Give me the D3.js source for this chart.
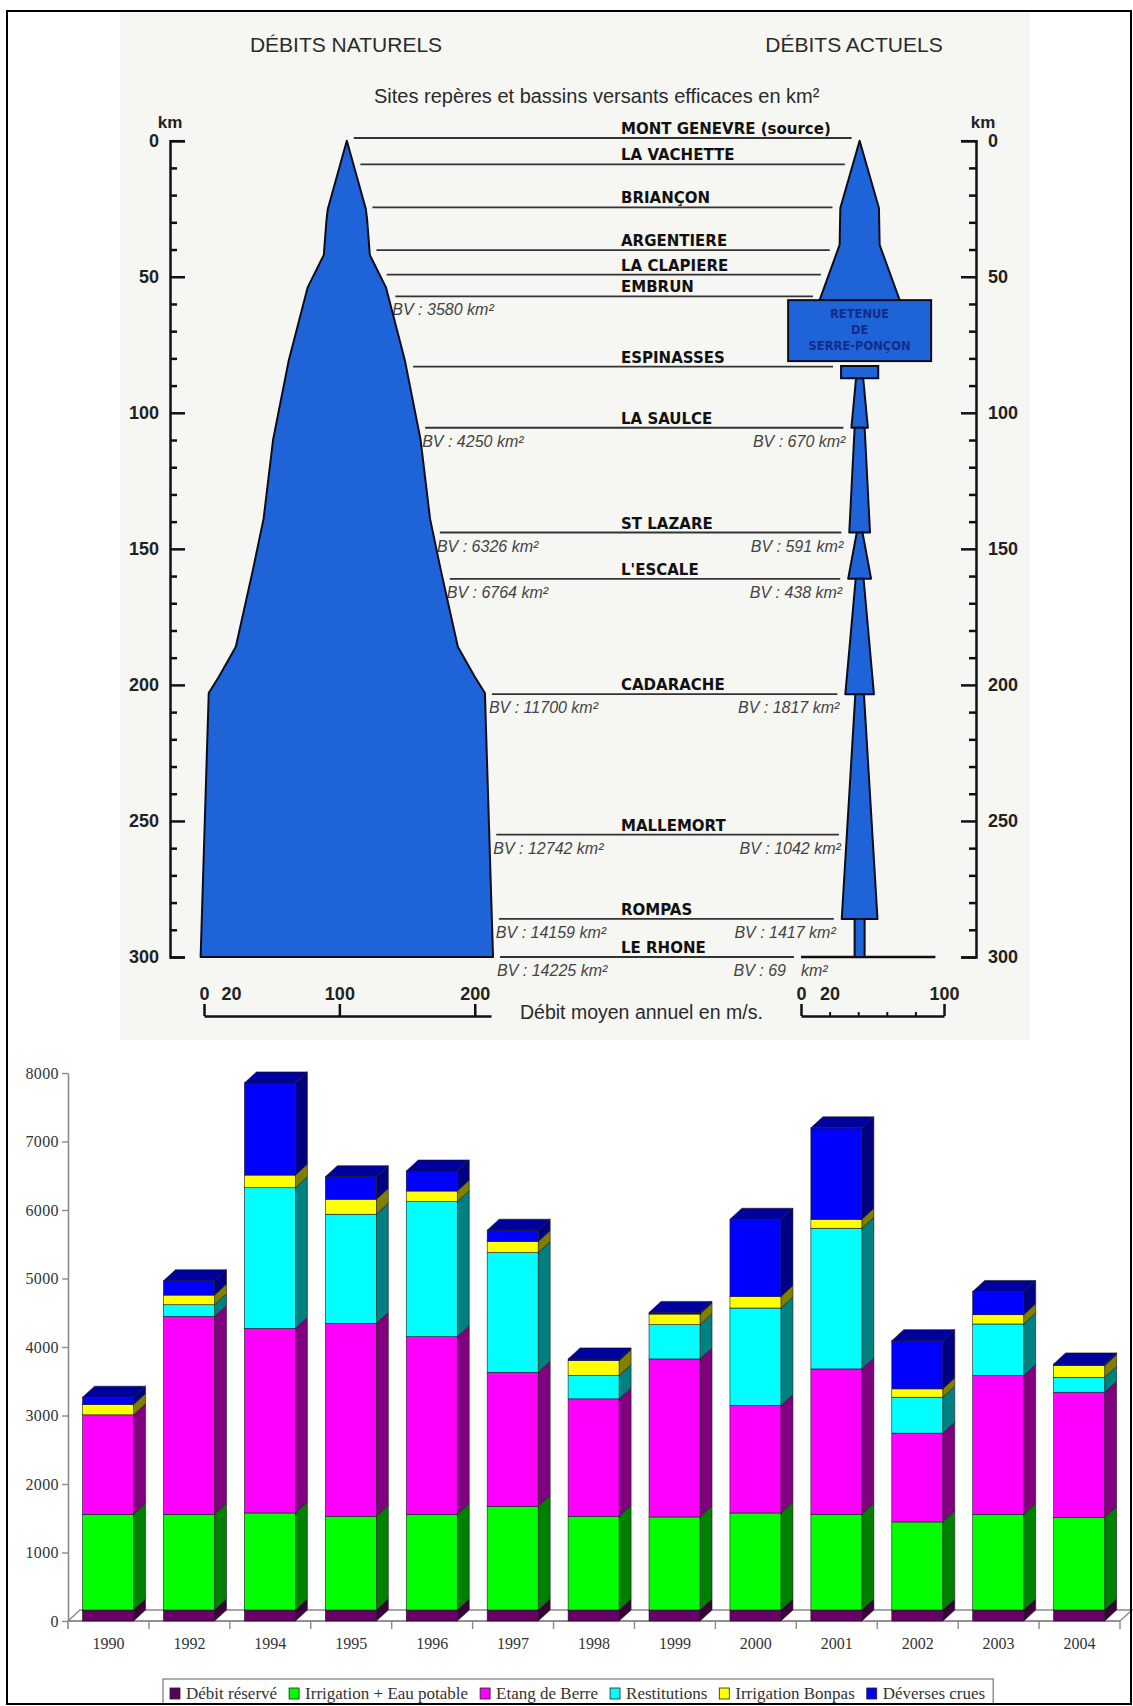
<!DOCTYPE html>
<html><head><meta charset="utf-8">
<script src="https://cdn.jsdelivr.net/npm/d3@7"></script>
<style>body{margin:0;background:#fff}svg{display:block}</style>
</head><body><svg id="c" width="1133" height="1706"></svg>
<script>
// ================= DATA : river diagram =================
const kmTicks = [0, 50, 100, 150, 200, 250, 300];
const kmMinorTicks = [10,20,30,40,60,70,80,90,110,120,130,140,160,170,180,190,210,220,230,240,260,270,280,290];
// natural mean flow (m3/s) along the river (km)
const naturalKm   = [0, 25, 29, 42, 54, 81, 110, 139, 158, 186, 197, 203, 300];
const naturalFlow = [0, 28, 30, 34, 58, 86, 109, 123, 139, 164, 189, 204, 216];
// present-day flow: upper Durance down to the reservoir
const actualKm   = [0, 24.7, 38.3, 58.6];
const actualFlow = [0, 27, 28, 56];
const reservoirKm = [58.6, 81];
const reservoirFlow = 100;
const reservoirText = ["RETENUE", "DE", "SERRE-PONÇON"];
const outletKm = [82.8, 87.3];
const outletFlow = 26;
// reaches below the dam (flow at upstream / downstream end)
const reachFromKm  = [87.3, 105.5, 144, 161, 203.4, 286];
const reachToKm    = [105.5, 144, 161, 203.4, 286, 300];
const reachFlowIn  = [5, 7, 4, 5.5, 6, 7];
const reachFlowOut = [11.5, 14.5, 16, 20, 25, 7];
const rhoneLineFlow = 94;
const siteNames = ["MONT GENEVRE (source)", "LA VACHETTE", "BRIANÇON", "ARGENTIERE", "LA CLAPIERE", "EMBRUN",
  "ESPINASSES", "LA SAULCE", "ST LAZARE", "L'ESCALE", "CADARACHE", "MALLEMORT", "ROMPAS", "LE RHONE"];
const siteKm = [-1, 8.7, 24.5, 40.2, 49.2, 57.2, 83, 105.5, 144, 161, 203.4, 255, 286, 300];
const bvNatural = [null, null, null, null, null, "3580", null, "4250", "6326", "6764", "11700", "12742", "14159", "14225"];
const bvActual  = [null, null, null, null, null, null, null, "670", "591", "438", "1817", "1042", "1417", "69"];
const natFlowTicks = [0, 100, 200];
const natFlowLabels = [0, 20, 100, 200];
const actFlowTicks = [0, 100];
const actFlowLabels = [0, 20, 100];
const actFlowMinor = [20, 40, 60, 80];

// ================= DATA : stacked bars =================
const years = ["1990","1992","1994","1995","1996","1997","1998","1999","2000","2001","2002","2003","2004"];
const debitReserve = [160,160,160,160,160,160,160,160,160,160,160,160,160];
const irrigationEau = [1398,1398,1417,1369,1398,1515,1369,1359,1417,1398,1286,1398,1350];
const etangBerre = [1452,2889,2695,2816,2593,1956,1714,2307,1569,2122,1297,2025,1830];
const restitutions = [0,170,2053,1593,1971,1748,340,500,1423,2054,524,753,218];
const irrigationBonpas = [150,141,185,219,155,160,218,155,169,131,122,135,171];
const deversesCrues = [107,209,1345,329,292,166,25,24,1127,1334,704,340,24];
const seriesNames = ["Débit réservé","Irrigation + Eau potable","Etang de Berre","Restitutions","Irrigation Bonpas","Déverses crues"];
const barTicks = [0,1000,2000,3000,4000,5000,6000,7000,8000];

// ================= STYLE =================
const SANS = "'Liberation Sans', Arial, sans-serif";
const HEAVY = "'DejaVu Sans', sans-serif";
const SERIF = "'Liberation Serif', 'Times New Roman', serif";
const RIVER = "#1e64d8";
const frontCol = ["#660066","#00ff00","#ff00ff","#00ffff","#ffff00","#0000ff"];
const sideCol  = ["#3a003a","#008000","#800080","#008080","#808000","#000080"];
const legendCol = ["#5a005a","#00ff00","#ff00ff","#00ffff","#ffff00","#0000ff"];
const topCol = "#00009c";

const svg = d3.select("#c");
svg.append("rect").attr("width",1133).attr("height",1706).attr("fill","#fff");
svg.append("rect").attr("x",120).attr("y",12).attr("width",910).attr("height",1028).attr("fill","#f6f6f3");

// ---------- top diagram ----------
const topG = svg.append("g");
const yKm = d3.scaleLinear().domain([0,300]).range([140.7,957]);
const xNat = d3.scaleLinear().domain([0,212]).range([204,491]);
const xAct = d3.scaleLinear().domain([0,100]).range([801,944]);
const natQ = d3.scaleLinear().domain(naturalKm).range(naturalFlow).clamp(true);
const actQ = d3.scaleLinear().domain(actualKm).range(actualFlow).clamp(true);
const natC = 105.5;   // centre line of the natural profile on its flow scale
const actC = 41;      // centre line of the present-day profile on its flow scale

function actFlowAt(km){
  let q = (km <= actualKm[actualKm.length-1]) ? actQ(km) : 0;
  if (km >= reservoirKm[0] && km <= reservoirKm[1]) q = Math.max(q, reservoirFlow);
  if (km >= outletKm[0] && km <= outletKm[1]) q = Math.max(q, outletFlow);
  reachFromKm.forEach((f,i)=>{
    const t = reachToKm[i];
    if (km >= f && km <= t) q = Math.max(q, reachFlowIn[i] + (reachFlowOut[i]-reachFlowIn[i])*(km-f)/(t-f));
  });
  return q;
}

topG.append("text").attr("x",346).attr("y",52).attr("text-anchor","middle")
  .style("font-family",SANS).style("font-size","21px").attr("fill","#2a2a2a").text("DÉBITS NATURELS");
topG.append("text").attr("x",854).attr("y",52).attr("text-anchor","middle")
  .style("font-family",SANS).style("font-size","21px").attr("fill","#2a2a2a").text("DÉBITS ACTUELS");
topG.append("text").attr("x",374).attr("y",103)
  .style("font-family",SANS).style("font-size","20px").attr("fill","#2a2a2a").text("Sites repères et bassins versants efficaces en km²");

// site lines and labels
const lastIdx = siteNames.length-1;
siteNames.forEach((name,i)=>{
  const km = siteKm[i], y = yKm(km);
  const x1 = xNat(natC + natQ(km)/2) + 7;
  const x2 = (i === lastIdx) ? xAct(0) - 7 : xAct(actC - actFlowAt(km)/2) - 8;
  topG.append("line").attr("x1",x1).attr("x2",x2).attr("y1",y).attr("y2",y)
    .attr("stroke","#333").attr("stroke-width",1.8);
  topG.append("text").attr("x",621).attr("y",y-4)
    .style("font-family",HEAVY).style("font-weight","bold").style("font-size","15px").attr("fill","#111").text(name);
  if (bvNatural[i]) topG.append("text").attr("x",x1-3).attr("y",y+19)
    .style("font-family",SANS).style("font-style","italic").style("font-size","16px").attr("fill","#444")
    .text("BV : " + bvNatural[i] + " km²");
  if (bvActual[i]) {
    if (i === lastIdx) {
      topG.append("text").attr("x",x2-8).attr("y",y+19).attr("text-anchor","end")
        .style("font-family",SANS).style("font-style","italic").style("font-size","16px").attr("fill","#444")
        .text("BV : " + bvActual[i]);
      topG.append("text").attr("x",xAct(0)).attr("y",y+19)
        .style("font-family",SANS).style("font-style","italic").style("font-size","16px").attr("fill","#444").text("km²");
    } else {
      topG.append("text").attr("x",x2+2).attr("y",y+19).attr("text-anchor","end")
        .style("font-family",SANS).style("font-style","italic").style("font-size","16px").attr("fill","#444")
        .text("BV : " + bvActual[i] + " km²");
    }
  }
});
// Rhône line
topG.append("line").attr("x1",xAct(0)).attr("x2",xAct(rhoneLineFlow)).attr("y1",yKm(300)).attr("y2",yKm(300))
  .attr("stroke","#111").attr("stroke-width",2.4);

// natural shape
const natPts = naturalKm.map((k,i)=>[xNat(natC + naturalFlow[i]/2), yKm(k)])
  .concat(naturalKm.map((k,i)=>[xNat(natC - naturalFlow[i]/2), yKm(k)]).reverse());
topG.append("path").attr("d", d3.line()(natPts) + "Z")
  .attr("fill",RIVER).attr("stroke","#0d0d1a").attr("stroke-width",2).attr("stroke-linejoin","round");

// actual shape
const actPts = actualKm.map((k,i)=>[xAct(actC + actualFlow[i]/2), yKm(k)])
  .concat(actualKm.map((k,i)=>[xAct(actC - actualFlow[i]/2), yKm(k)]).reverse());
topG.append("path").attr("d", d3.line()(actPts) + "Z")
  .attr("fill",RIVER).attr("stroke","#0d0d1a").attr("stroke-width",2).attr("stroke-linejoin","round");
reachFromKm.forEach((f,i)=>{
  const t = reachToKm[i];
  const pts = [[xAct(actC - reachFlowIn[i]/2), yKm(f)], [xAct(actC + reachFlowIn[i]/2), yKm(f)],
               [xAct(actC + reachFlowOut[i]/2), yKm(t)], [xAct(actC - reachFlowOut[i]/2), yKm(t)]];
  topG.append("path").attr("d", d3.line()(pts) + "Z")
    .attr("fill",RIVER).attr("stroke","#0d0d1a").attr("stroke-width",2).attr("stroke-linejoin","round");
});
topG.append("rect").attr("x",xAct(actC - outletFlow/2)).attr("y",yKm(outletKm[0]))
  .attr("width",xAct(actC + outletFlow/2)-xAct(actC - outletFlow/2)).attr("height",yKm(outletKm[1])-yKm(outletKm[0]))
  .attr("fill",RIVER).attr("stroke","#0d0d1a").attr("stroke-width",2);
const rx0 = xAct(actC - reservoirFlow/2), rx1 = xAct(actC + reservoirFlow/2);
const ry0 = yKm(reservoirKm[0]), ry1 = yKm(reservoirKm[1]);
topG.append("rect").attr("x",rx0).attr("y",ry0).attr("width",rx1-rx0).attr("height",ry1-ry0)
  .attr("fill",RIVER).attr("stroke","#0d0d1a").attr("stroke-width",2);
reservoirText.forEach((t,i)=>{
  topG.append("text").attr("x",(rx0+rx1)/2).attr("y",ry0 + 18 + i*16).attr("text-anchor","middle")
    .style("font-family",HEAVY).style("font-weight","bold").style("font-size","11.5px").attr("fill","#142c86").text(t);
});

// km axes
function styleAxis(g, size){
  g.select(".domain").attr("stroke","#111").attr("stroke-width",2.5);
  g.selectAll(".tick line").attr("stroke","#111").attr("stroke-width",2.5);
  g.selectAll(".tick text").style("font-family",SANS).style("font-weight","bold").style("font-size",size).attr("fill","#222");
}
const gL = topG.append("g").attr("transform","translate(170,0)")
  .call(d3.axisLeft(yKm).tickValues(kmTicks).tickSize(-15).tickSizeOuter(-15).tickPadding(11).tickFormat(d3.format("d")));
styleAxis(gL,"18px");
const gLm = topG.append("g").attr("transform","translate(170,0)")
  .call(d3.axisLeft(yKm).tickValues(kmMinorTicks).tickSize(-7).tickFormat(""));
gLm.select(".domain").remove();
gLm.selectAll(".tick line").attr("stroke","#111").attr("stroke-width",2.5);
const gR = topG.append("g").attr("transform","translate(976,0)")
  .call(d3.axisRight(yKm).tickValues(kmTicks).tickSize(-15).tickSizeOuter(-15).tickPadding(12).tickFormat(d3.format("d")));
styleAxis(gR,"18px");
const gRm = topG.append("g").attr("transform","translate(976,0)")
  .call(d3.axisRight(yKm).tickValues(kmMinorTicks).tickSize(-7).tickFormat(""));
gRm.select(".domain").remove();
gRm.selectAll(".tick line").attr("stroke","#111").attr("stroke-width",2.5);
topG.append("text").attr("x",170).attr("y",128).attr("text-anchor","middle")
  .style("font-family",SANS).style("font-weight","bold").style("font-size","17px").attr("fill","#222").text("km");
topG.append("text").attr("x",983).attr("y",128).attr("text-anchor","middle")
  .style("font-family",SANS).style("font-weight","bold").style("font-size","17px").attr("fill","#222").text("km");

// flow scales
const gN = topG.append("g").attr("transform","translate(0,1016)")
  .call(d3.axisTop(xNat).tickValues(natFlowLabels).tickSize(12).tickSizeOuter(0).tickPadding(4).tickFormat(d3.format("d")));
styleAxis(gN,"18px");
gN.selectAll(".tick").filter(d=>!natFlowTicks.includes(d)).select("line").remove();
const gA = topG.append("g").attr("transform","translate(0,1016)")
  .call(d3.axisTop(xAct).tickValues(actFlowLabels).tickSize(12).tickSizeOuter(0).tickPadding(4).tickFormat(d3.format("d")));
styleAxis(gA,"18px");
gA.selectAll(".tick").filter(d=>!actFlowTicks.includes(d)).select("line").remove();
const gAm = topG.append("g").attr("transform","translate(0,1016)")
  .call(d3.axisTop(xAct).tickValues(actFlowMinor).tickSize(4).tickFormat(""));
gAm.select(".domain").remove();
gAm.selectAll(".tick line").attr("stroke","#111").attr("stroke-width",2);
topG.append("text").attr("x",520).attr("y",1019)
  .style("font-family",SANS).style("font-size","19.5px").attr("fill","#2a2a2a").text("Débit moyen annuel en m/s.");

// ---------- bar chart ----------
const bars = svg.append("g");
const yBar = d3.scaleLinear().domain([0,8000]).range([1621,1073]);
const xBar = d3.scaleBand().domain(years).range([68,1120]).padding(0);
const step = xBar.step();
const DX = 12, DY = 11;
const rows = years.map((y,i)=>({year:y, s0:debitReserve[i], s1:irrigationEau[i], s2:etangBerre[i], s3:restitutions[i], s4:irrigationBonpas[i], s5:deversesCrues[i]}));
const keys = ["s0","s1","s2","s3","s4","s5"];
const stacked = d3.stack().keys(keys)(rows);

// axes
const gY = bars.append("g").attr("transform","translate(68,0)")
  .call(d3.axisLeft(yBar).tickValues(barTicks).tickSize(6).tickSizeOuter(0).tickPadding(3).tickFormat(d3.format("d")));
gY.select(".domain").attr("stroke","#8a8a8a").attr("stroke-width",1.6);
gY.selectAll(".tick line").attr("stroke","#8a8a8a").attr("stroke-width",1.4);
gY.selectAll(".tick text").style("font-family",SERIF).style("font-size","16px").style("letter-spacing","0.4px").attr("fill","#333");
bars.append("line").attr("x1",68).attr("x2",68).attr("y1",yBar(0)).attr("y2",yBar(0)+8).attr("stroke","#8a8a8a").attr("stroke-width",1.6);
// floor
const x0a = xBar.range()[0], x1a = xBar.range()[1], y0a = yBar(0);
bars.append("path").attr("d",`M${x0a},${y0a}L${x0a+DX},${y0a-DY}L${x1a+DX},${y0a-DY}L${x1a},${y0a}Z`)
  .attr("fill","#fff").attr("stroke","#8a8a8a").attr("stroke-width",1.4);
bars.append("line").attr("x1",x0a).attr("x2",x1a).attr("y1",y0a).attr("y2",y0a).attr("stroke","#8a8a8a").attr("stroke-width",1.6);
years.forEach(y=>{
  const xt = xBar(y)+step;
  bars.append("line").attr("x1",xt).attr("x2",xt).attr("y1",y0a).attr("y2",y0a+8).attr("stroke","#8a8a8a").attr("stroke-width",1.4);
});
const gX = bars.append("g").attr("transform",`translate(0,${y0a})`)
  .call(d3.axisBottom(xBar).tickSize(0).tickPadding(17));
gX.select(".domain").remove();
gX.selectAll(".tick text").style("font-family",SERIF).style("font-size","16px").attr("fill","#333");

// 3D stacked bars
years.forEach((yr,i)=>{
  const fx0 = xBar(yr) + step*0.18, fx1 = fx0 + step*0.63;
  let topY = null;
  stacked.forEach((layer,k)=>{
    const v0 = layer[i][0], v1 = layer[i][1];
    if (v1 - v0 <= 0) return;
    const ya = yBar(v0), yb = yBar(v1);
    bars.append("path").attr("d",`M${fx1},${ya}L${fx1+DX},${ya-DY}L${fx1+DX},${yb-DY}L${fx1},${yb}Z`)
      .attr("fill",sideCol[k]).attr("stroke","#1a1a1a").attr("stroke-width",0.6);
    bars.append("rect").attr("x",fx0).attr("y",yb).attr("width",fx1-fx0).attr("height",ya-yb)
      .attr("fill",frontCol[k]).attr("stroke","#1a1a1a").attr("stroke-width",0.6);
    topY = yb;
  });
  bars.append("path").attr("d",`M${fx0},${topY}L${fx0+DX},${topY-DY}L${fx1+DX},${topY-DY}L${fx1},${topY}Z`)
    .attr("fill",topCol).attr("stroke","#1a1a1a").attr("stroke-width",0.6);
});

// legend
const leg = bars.append("g");
const legBox = leg.append("rect").attr("x",163).attr("y",1679).attr("height",25)
  .attr("fill","#fff").attr("stroke","#777").attr("stroke-width",1.2);
let lx = 170;
seriesNames.forEach((n,k)=>{
  leg.append("rect").attr("x",lx).attr("y",1688).attr("width",10).attr("height",11)
    .attr("fill",legendCol[k]).attr("stroke","#222").attr("stroke-width",0.8);
  const t = leg.append("text").attr("x",lx+16).attr("y",1699)
    .style("font-family",SERIF).style("font-size","17px").attr("fill","#333").text(n);
  lx += 16 + t.node().getComputedTextLength() + 12;
});
legBox.attr("width", lx - 163 - 4);

// frame
svg.append("rect").attr("x",7).attr("y",11).attr("width",1124).attr("height",1693)
  .attr("fill","none").attr("stroke","#000").attr("stroke-width",2);
</script></body></html>
